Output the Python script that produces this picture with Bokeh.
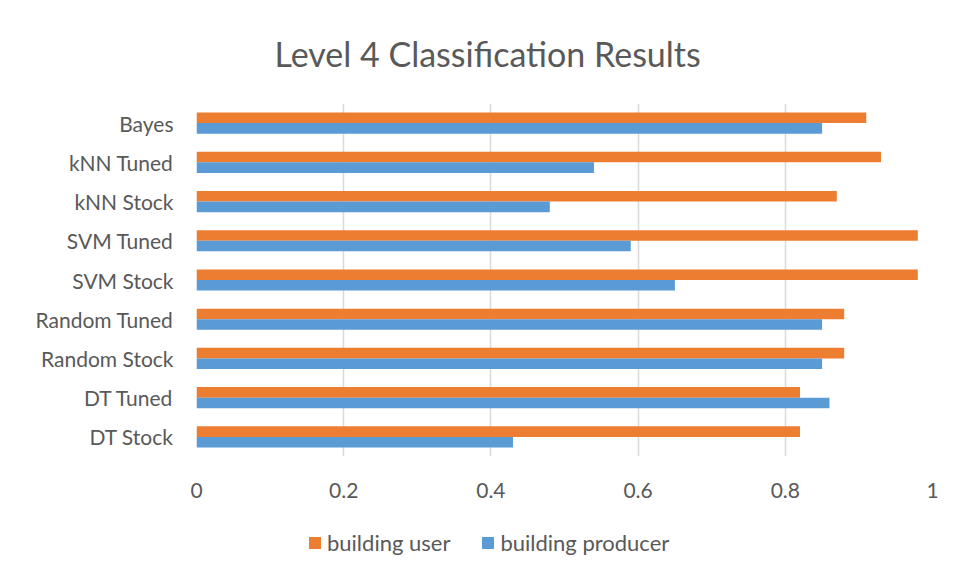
from bokeh.plotting import figure
from bokeh.models import (FactorRange, Range1d, ColumnDataSource, Legend, LegendItem,
                          FixedTicker)
from bokeh.layouts import column
from bokeh.transform import dodge
from bokeh.embed import file_html
from bokeh.resources import INLINE

categories = ["DT Stock", "DT Tuned", "Random Stock", "Random Tuned", "SVM Stock",
              "SVM Tuned", "kNN Stock", "kNN Tuned", "Bayes"]
building_user = [0.82, 0.82, 0.88, 0.88, 0.98, 0.98, 0.87, 0.93, 0.91]
building_producer = [0.43, 0.86, 0.85, 0.85, 0.65, 0.59, 0.48, 0.54, 0.85]
x_ticks = [0, 0.2, 0.4, 0.6, 0.8, 1]
series_names = ["building user", "building producer"]

FONT = "Lato"
TXT = "#595959"
ORANGE = "#ED7D31"
BLUE = "#5B9BD5"

src = ColumnDataSource(dict(cat=categories, user=building_user, prod=building_producer))

p = figure(width=956, height=520, y_range=FactorRange(*categories), x_range=Range1d(0, 1),
           output_backend="svg", toolbar_location=None,
           min_border_left=196, min_border_right=24, min_border_top=103, min_border_bottom=64)

bh = 0.27
p.hbar(y=dodge("cat", bh / 2, range=p.y_range), right="user", left=0, height=bh,
       source=src, color=ORANGE, line_color=None)
p.hbar(y=dodge("cat", -bh / 2, range=p.y_range), right="prod", left=0, height=bh,
       source=src, color=BLUE, line_color=None)

p.title.text = "Level 4 Classification Results"
p.title.align = "left"
p.title.offset = 78
p.title.text_font = FONT
p.title.text_font_size = "34px"
p.title.text_font_style = "normal"
p.title.text_color = TXT
p.title.standoff = 60

p.outline_line_color = None
p.ygrid.grid_line_color = None
p.xgrid.grid_line_color = "#D9D9D9"
p.xgrid.grid_line_width = 1.5
p.xaxis.ticker = FixedTicker(ticks=x_ticks)
p.xaxis.major_label_overrides = {0: "0", 1: "1"}

for ax in (p.xaxis[0], p.yaxis[0]):
    ax.axis_line_color = None
    ax.major_tick_line_color = None
    ax.minor_tick_line_color = None
    ax.major_label_text_font = FONT
    ax.major_label_text_font_size = "21px"
    ax.major_label_text_color = TXT
p.xaxis.major_label_standoff = 20
p.yaxis.major_label_standoff = 17

# legend strip below the chart (its zero-height bars are never visible)
lf = figure(width=956, height=56, x_range=Range1d(2, 3), y_range=FactorRange(*categories),
            output_backend="svg", toolbar_location=None,
            min_border_left=0, min_border_right=0, min_border_top=0, min_border_bottom=0)
lf.axis.visible = False
lf.grid.visible = False
lf.outline_line_color = None
lr_user = lf.hbar(y="cat", right="user", left="user", height=0, source=src, color=ORANGE, line_color=None)
lr_prod = lf.hbar(y="cat", right="prod", left="prod", height=0, source=src, color=BLUE, line_color=None)

legend = Legend(items=[LegendItem(label=series_names[0], renderers=[lr_user]),
                       LegendItem(label=series_names[1], renderers=[lr_prod])],
                orientation="horizontal", location=(111, 20))
legend.label_text_font = FONT
legend.label_text_font_size = "22px"
legend.label_text_color = TXT
legend.glyph_width = 15
legend.glyph_height = 15
legend.spacing = 30
legend.label_standoff = 5
legend.padding = 0
legend.margin = 0
legend.border_line_color = None
legend.background_fill_alpha = 0
lf.add_layout(legend, "center")

layout = column(p, lf, spacing=0)
open("out.html", "w").write(file_html(layout, INLINE))
